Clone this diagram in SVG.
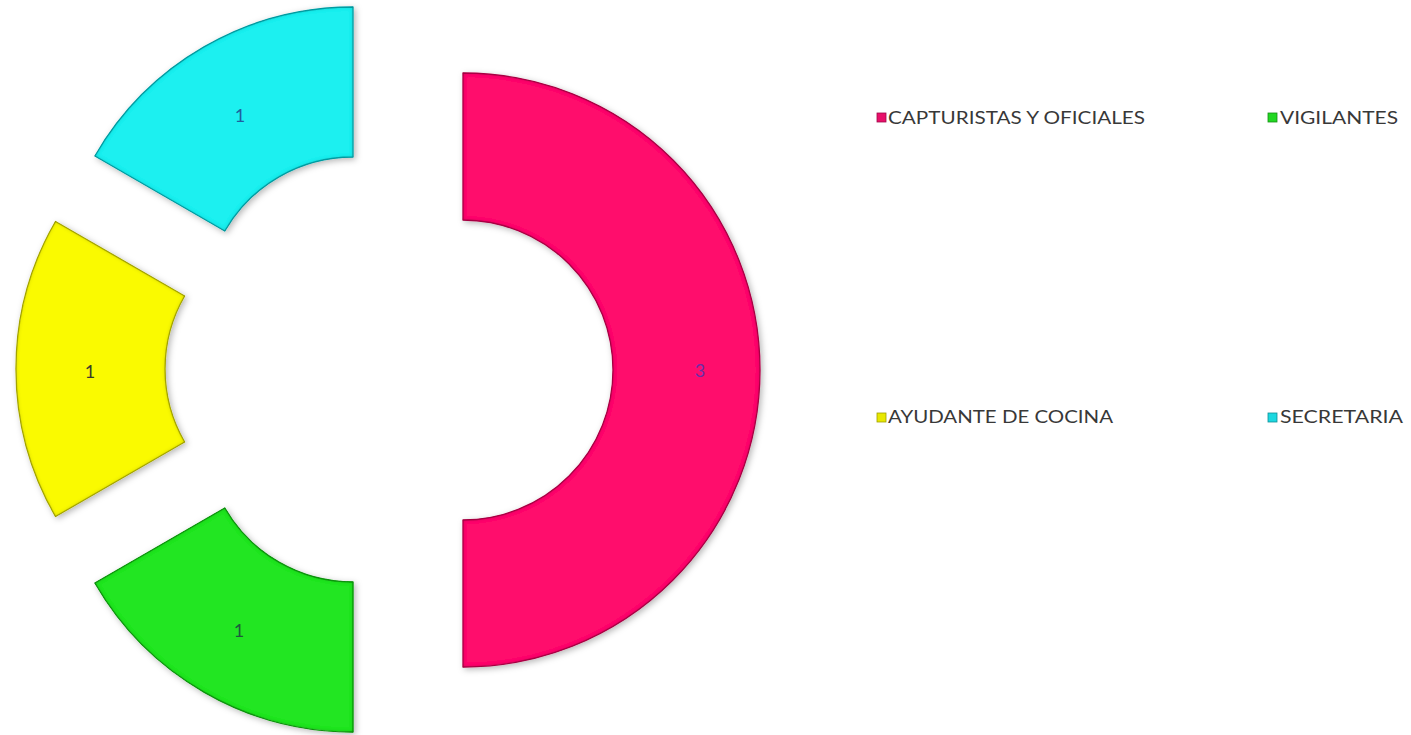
<svg xmlns="http://www.w3.org/2000/svg" width="1411" height="735" viewBox="0 0 1411 735">
  <defs>
    <filter id="bevel" x="-10%" y="-10%" width="125%" height="125%">
      <feGaussianBlur in="SourceAlpha" stdDeviation="3" result="blur"/>
      <feOffset in="blur" dx="2" dy="2" result="off"/>
      <feFlood flood-color="#000" flood-opacity="0.28"/>
      <feComposite in2="off" operator="in" result="shadow"/>
      <feGaussianBlur in="SourceAlpha" stdDeviation="2" result="b2"/>
      <feComposite in="SourceAlpha" in2="b2" operator="arithmetic" k2="1" k3="-1" result="edge"/>
      <feFlood flood-color="#000" flood-opacity="0.5"/>
      <feComposite in2="edge" operator="in" result="edgeDark"/>
      <feMerge>
        <feMergeNode in="shadow"/>
        <feMergeNode in="SourceGraphic"/>
        <feMergeNode in="edgeDark"/>
      </feMerge>
    </filter>
  </defs>
  <style>
    .seg { filter: url(#bevel); stroke-width: 1.3; stroke-linejoin: round; }
    .val { font-family: Lato, "Liberation Sans", sans-serif; font-size: 18px; text-anchor: middle; dominant-baseline: central; }
    .leg { font-family: Lato, "Liberation Sans", sans-serif; font-size: 17px; fill: #383838; }
    .key { stroke-width: 0.8; }
  </style>
  <rect width="1411" height="735" fill="#ffffff"/>

  <g id="node-capturistas">
    <path class="seg" d="M463,73 A297,297 0 0 1 463,667 L463,520 A150,150 0 0 0 463,220 Z" fill="#FF0A6C" stroke="#B8004C"/>
    <text class="val" x="700" y="370" fill="#6A2DA8">3</text>
  </g>
  <g id="node-vigilantes">
    <path class="seg" d="M353,732 A298,298 0 0 1 94.9,583 L224.8,508 A148,148 0 0 0 353,582 Z" fill="#22E622" stroke="#14A014"/>
    <text class="val" x="239" y="630" fill="#1E5A3C">1</text>
  </g>
  <g id="node-ayudante">
    <path class="seg" d="M55.5,516.5 A295,295 0 0 1 55.5,221.5 L184.6,296 A146,146 0 0 0 184.6,442 Z" fill="#FAFA00" stroke="#B4B400"/>
    <text class="val" x="90" y="371" fill="#3A3A2A">1</text>
  </g>
  <g id="node-secretaria">
    <path class="seg" d="M94.9,156 A298,298 0 0 1 353,7 L353,157 A148,148 0 0 0 224.8,231 Z" fill="#1CF0F0" stroke="#10AAB0"/>
    <text class="val" x="240" y="115" fill="#1F5FA0">1</text>
  </g>

  <g id="legend">
    <g id="legend-capturistas">
      <rect class="key" x="877" y="113" width="9" height="9" fill="#E8106A" stroke="#A0084A"/>
      <text class="leg" x="888" y="124" textLength="257" lengthAdjust="spacingAndGlyphs">CAPTURISTAS Y OFICIALES</text>
    </g>
    <g id="legend-vigilantes">
      <rect class="key" x="1268" y="113" width="9" height="9" fill="#22D822" stroke="#169016"/>
      <text class="leg" x="1280" y="124" textLength="118" lengthAdjust="spacingAndGlyphs">VIGILANTES</text>
    </g>
    <g id="legend-ayudante">
      <rect class="key" x="877" y="413" width="9" height="9" fill="#E8E800" stroke="#A0A000"/>
      <text class="leg" x="888" y="423" textLength="225" lengthAdjust="spacingAndGlyphs">AYUDANTE DE COCINA</text>
    </g>
    <g id="legend-secretaria">
      <rect class="key" x="1268" y="413" width="9" height="9" fill="#1CD8E0" stroke="#109098"/>
      <text class="leg" x="1280" y="423" textLength="123" lengthAdjust="spacingAndGlyphs">SECRETARIA</text>
    </g>
  </g>
  <g id="connectors"/>
</svg>
